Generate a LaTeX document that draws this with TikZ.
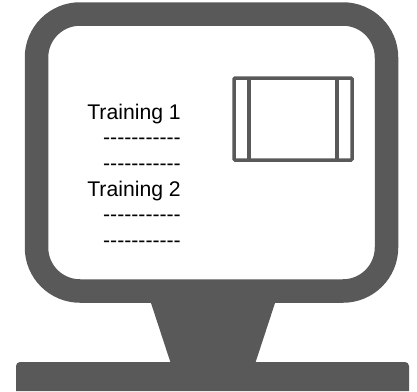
\documentclass[tikz,border=0pt]{standalone}
\usepackage{fontspec}
\newfontfamily\labelfont{Liberation Sans}
\definecolor{screengrey}{HTML}{595959}
\tikzset{
    frame/.style={draw=screengrey, line width=23.5pt, rounded corners=43.5pt},
    window/.style={draw=screengrey, line width=3.5pt, rounded corners=1pt},
    solid grey/.style={fill=screengrey, draw=none},
    listing/.style={align=right, inner sep=0pt, anchor=north east, text=black,
        font=\labelfont\fontsize{21.2}{25.67}\selectfont}
}

\begin{document}
\begin{tikzpicture}[x=1pt, y=-1pt]
    \useasboundingbox (0,0) rectangle (417,391);
    % stand and foot
    \path[solid grey] (150,300) -- (276,300) -- (255,364) -- (171,364) -- cycle;
    \path[solid grey] (16,391) [rounded corners=4pt] -- (16,362) -- (409,362)
        [sharp corners] -- (409,391) -- cycle;
    % screen
    \draw[frame] (36.5,14) rectangle (386.5,291);
    % small window
    \draw[window] (234,78) rectangle (352,160);
    \draw[screengrey, line width=3.5pt] (249,78) -- (249,160);
    \draw[screengrey, line width=3.5pt] (337,78) -- (337,160);
    \node[listing] (list) at (181,103.5) {Training 1\\-----------\\-----------\\Training 2\\-----------\\-----------};
\end{tikzpicture}
\end{document}
